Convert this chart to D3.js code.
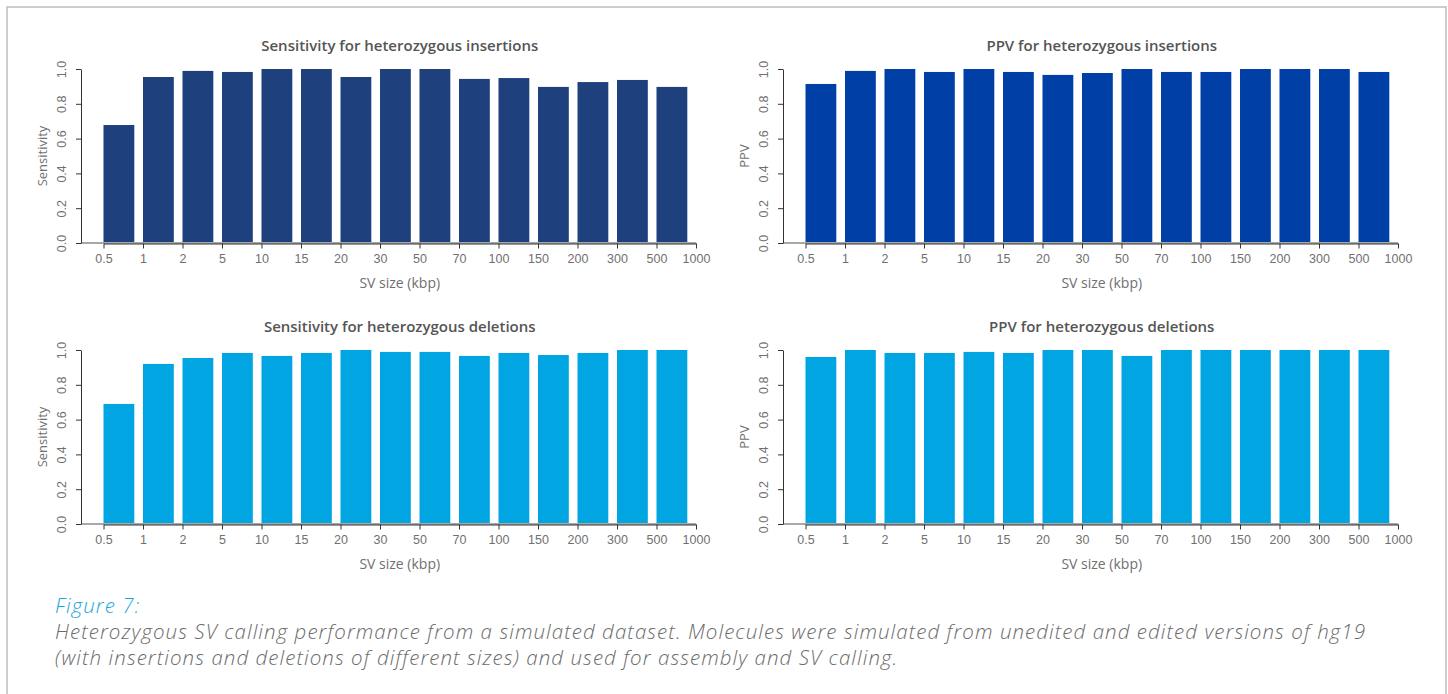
<!DOCTYPE html>
<html lang="en">
<head>
    <meta charset="UTF-8">
    <title>Figure 7</title>
    <script src="https://cdnjs.cloudflare.com/ajax/libs/d3/7.8.5/d3.min.js"></script>
    <style>
        body { margin: 0; background: #fff; }
        svg { display: block; font-family: "Open Sans", Lato, sans-serif; }
    </style>
</head>
<body>
    <div id="wrapper"></div>
    <script>
        // SV size bins (kbp) - tick labels sit on bar edges, so one more than bars
        const sizeLabels = ['0.5', '1', '2', '5', '10', '15', '20', '30', '50', '70', '100', '150', '200', '300', '500', '1000']
        const yTicks = [0, 0.2, 0.4, 0.6, 0.8, 1.0]

        const sensInsertions = [0.678, 0.954, 0.989, 0.983, 1.0, 1.0, 0.954, 1.0, 1.0, 0.943, 0.948, 0.897, 0.925, 0.937, 0.897]
        const ppvInsertions  = [0.914, 0.989, 1.0, 0.983, 1.0, 0.983, 0.966, 0.977, 1.0, 0.983, 0.983, 1.0, 1.0, 1.0, 0.983]
        const sensDeletions  = [0.690, 0.920, 0.954, 0.983, 0.966, 0.983, 1.0, 0.989, 0.989, 0.966, 0.983, 0.971, 0.983, 1.0, 1.0]
        const ppvDeletions   = [0.960, 1.0, 0.983, 0.983, 0.989, 0.983, 1.0, 1.0, 0.966, 1.0, 1.0, 1.0, 1.0, 1.0, 1.0]

        const panels = [
            { title: 'Sensitivity for heterozygous insertions', yLabel: 'Sensitivity', values: sensInsertions, color: '#1e407c', left: 81,  top: 69 },
            { title: 'PPV for heterozygous insertions',         yLabel: 'PPV',         values: ppvInsertions,  color: '#0040a6', left: 783, top: 69 },
            { title: 'Sensitivity for heterozygous deletions',  yLabel: 'Sensitivity', values: sensDeletions,  color: '#00a5e1', left: 81,  top: 350 },
            { title: 'PPV for heterozygous deletions',          yLabel: 'PPV',         values: ppvDeletions,   color: '#00a5e1', left: 783, top: 350 },
        ]

        const width = 1448
        const height = 694
        const plotH = 174
        const step = 39.5
        const firstTick = 22.5 // gap between y axis and first bar

        const svg = d3.select('#wrapper')
            .append('svg')
                .attr('width', width)
                .attr('height', height)

        // outer frame (open at the bottom, runs off the page)
        svg.append('rect')
            .attr('x', 7)
            .attr('y', 7)
            .attr('width', 1439)
            .attr('height', 720)
            .attr('fill', 'none')
            .attr('stroke', '#bdbdbd')
            .attr('stroke-width', 1.5)

        panels.forEach(p => {
            const g = svg.append('g')
                .attr('transform', `translate(${p.left}, ${p.top})`)

            const xScale = d3.scaleLinear()
                .domain([0, sizeLabels.length - 1])
                .range([firstTick, firstTick + step * (sizeLabels.length - 1)])

            const yScale = d3.scaleLinear()
                .domain([0, 1])
                .range([plotH, 0])

            const barW = (xScale(1) - xScale(0)) * 0.78

            // bars start at the left tick of their bin
            g.selectAll('rect.bar')
                .data(p.values)
                .join('rect')
                    .attr('class', 'bar')
                    .attr('x', (d, i) => xScale(i))
                    .attr('y', d => yScale(d))
                    .attr('width', barW)
                    .attr('height', d => plotH - yScale(d))
                    .attr('fill', p.color)

            // grey baseline from y axis to last tick
            g.append('line')
                .attr('x1', 0)
                .attr('x2', xScale(sizeLabels.length - 1))
                .attr('y1', plotH)
                .attr('y2', plotH)
                .attr('stroke', '#a8a8a8')
                .attr('stroke-width', 2)

            const xAxis = g.append('g')
                .attr('transform', `translate(0, ${plotH + 0.5})`)
                .call(d3.axisBottom(xScale)
                    .tickValues(d3.range(sizeLabels.length))
                    .tickFormat(i => sizeLabels[i])
                    .tickSize(5)
                    .tickSizeOuter(0))
            xAxis.select('.domain').attr('stroke', '#333')
            xAxis.selectAll('.tick line').attr('stroke', '#333')
            xAxis.selectAll('.tick text')
                .attr('y', 11)
                .attr('fill', '#707070')
                .style('font-size', '12.5px')

            const yAxis = g.append('g')
                .call(d3.axisLeft(yScale)
                    .tickValues(yTicks)
                    .tickFormat(d3.format('.1f'))
                    .tickSize(5)
                    .tickSizeOuter(0))
            yAxis.select('.domain').attr('stroke', '#333')
            yAxis.selectAll('.tick line').attr('stroke', '#333')
            yAxis.selectAll('.tick text')
                .attr('x', 0)
                .attr('dy', 0)
                .attr('text-anchor', 'middle')
                .attr('transform', 'translate(-15, 0) rotate(-90)')
                .attr('fill', '#707070')
                .style('font-size', '12.5px')

            const midX = (xScale(0) + xScale(sizeLabels.length - 1)) / 2

            g.append('text')
                .attr('x', midX)
                .attr('y', -18)
                .attr('text-anchor', 'middle')
                .attr('fill', '#555')
                .style('font-size', '15px')
                .style('font-weight', 600)
                .text(p.title)

            g.append('text')
                .attr('x', midX)
                .attr('y', plotH + 45)
                .attr('text-anchor', 'middle')
                .attr('fill', '#707070')
                .style('font-size', '14px')
                .text('SV size (kbp)')

            g.append('text')
                .attr('transform', `translate(-34, ${plotH / 2}) rotate(-90)`)
                .attr('text-anchor', 'middle')
                .attr('fill', '#707070')
                .style('font-size', '13px')
                .text(p.yLabel)
        })

        // caption
        const caption = svg.append('g')
            .style('font-style', 'italic')
            .style('font-weight', 300)
            .style('font-size', '20.5px')

        caption.append('text')
            .attr('x', 55)
            .attr('y', 613)
            .attr('fill', '#1aa7e0')
            .text('Figure 7:')

        const line1 = caption.append('text')
            .attr('x', 55)
            .attr('y', 639)
            .attr('fill', '#6b6b6b')
            .text('Heterozygous SV calling performance from a simulated dataset. Molecules were simulated from unedited and edited versions of hg19')

        caption.append('text')
            .attr('x', 55)
            .attr('y', 665)
            .attr('fill', '#6b6b6b')
            .text('(with insertions and deletions of different sizes) and used for assembly and SV calling.')

        // the original typeface runs wider; spread letters so line 1 ends near x=1366
        const target = 1311
        const w = line1.node().getComputedTextLength()
        const ls = (target - w) / line1.text().length
        caption.selectAll('text').style('letter-spacing', `${ls}px`)
    </script>
</body>
</html>
